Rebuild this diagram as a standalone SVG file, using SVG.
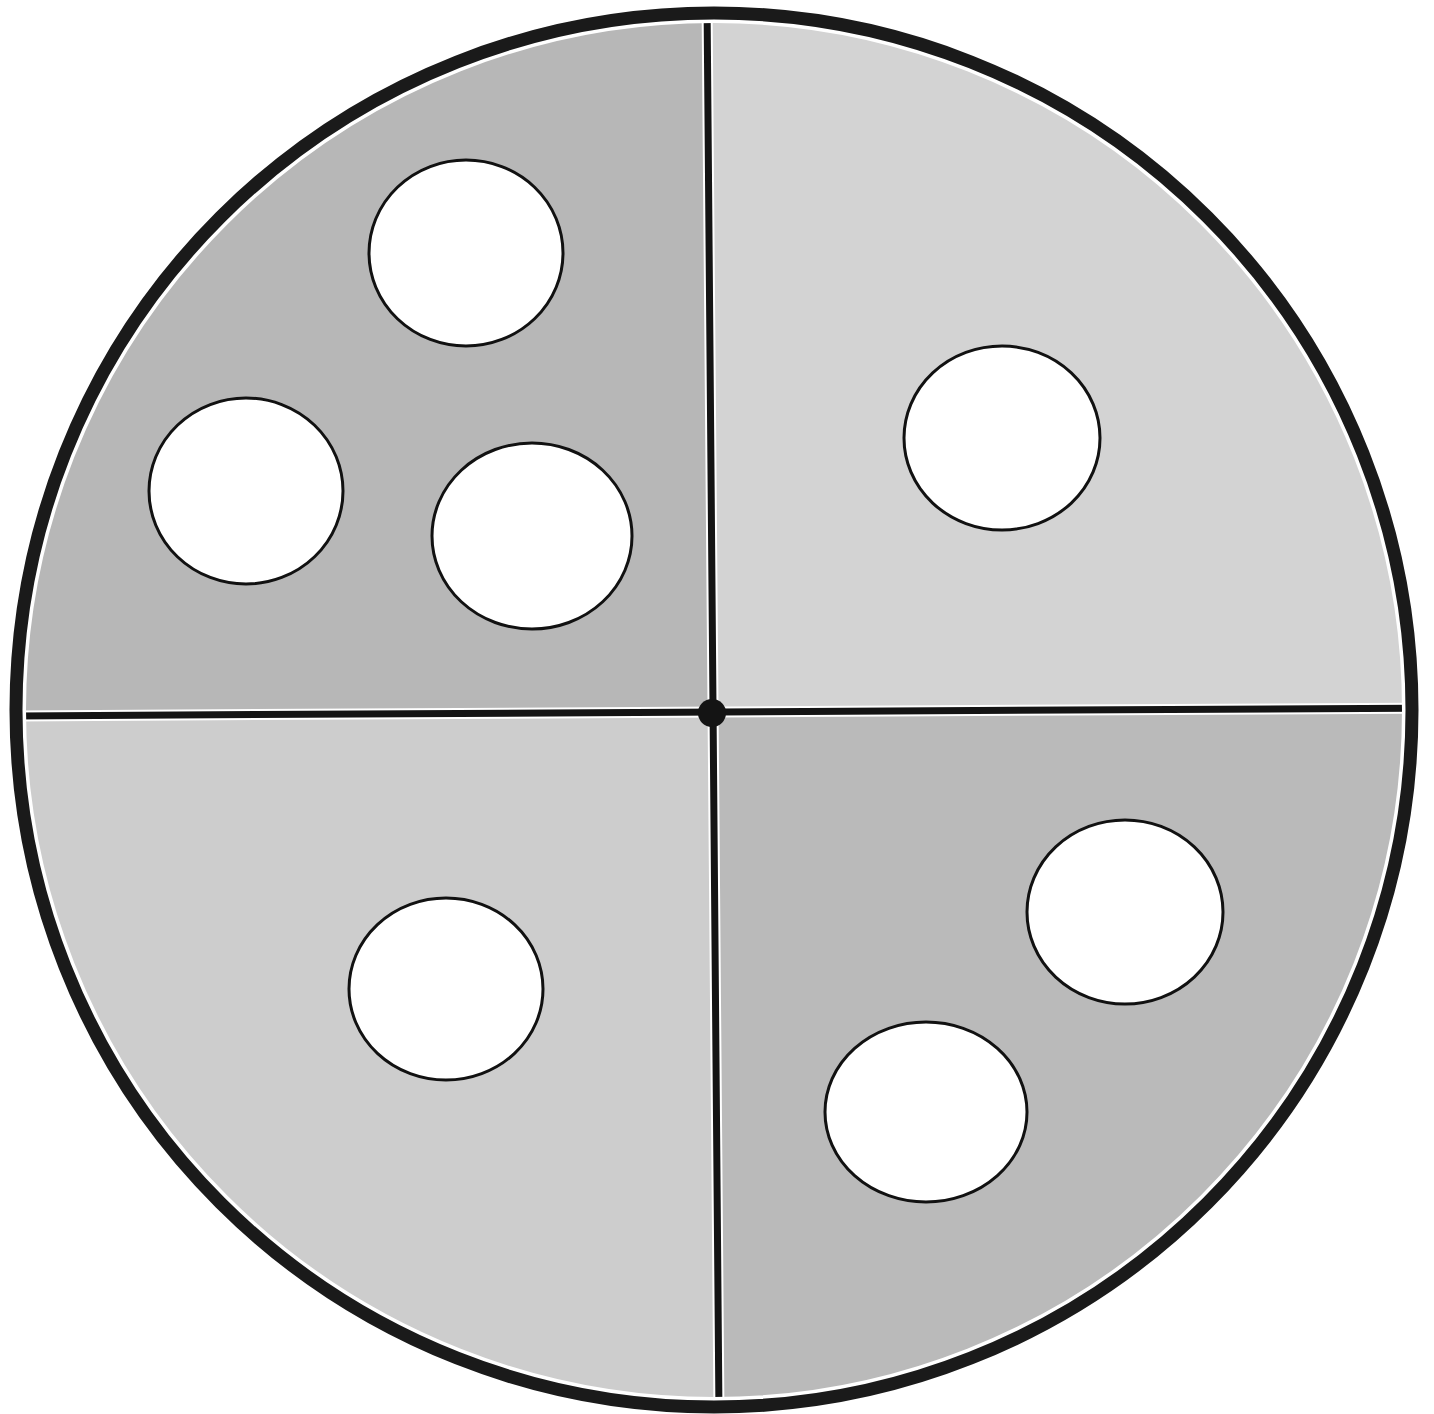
<svg xmlns="http://www.w3.org/2000/svg" width="1434" height="1414" viewBox="0 0 1434 1414">
  <style>
    .hole { fill: #ffffff; stroke: #111111; stroke-width: 3; }
    .halo { fill: none; stroke: #ffffff; stroke-width: 11; }
    .line { fill: none; stroke: #141414; stroke-width: 7; }
  </style>
  <defs>
    <clipPath id="disc">
      <ellipse cx="714" cy="710" rx="697" ry="696"/>
    </clipPath>
  </defs>
  <rect width="1434" height="1414" fill="#ffffff"/>
  <g id="quadrants" clip-path="url(#disc)">
    <polygon id="q-tl" points="0,0 707,0 712,713 0,716" fill="#b7b7b7"/>
    <polygon id="q-tr" points="707,0 1434,0 1434,708 712,713" fill="#d3d3d3"/>
    <polygon id="q-bl" points="0,716 712,713 719,1414 0,1414" fill="#cdcdcd"/>
    <polygon id="q-br" points="712,713 1434,708 1434,1414 719,1414" fill="#bababa"/>
  </g>
  <g id="dividers">
    <g clip-path="url(#disc)">
      <path class="halo" d="M707,0 L719,1414 M0,716 L1434,708"/>
      <path class="line" d="M707,0 L719,1414 M0,716 L1434,708"/>
    </g>
    <circle id="center" cx="712" cy="713" r="14" fill="#141414"/>
  </g>
  <ellipse id="rim-halo" cx="714" cy="710" rx="697" ry="696" fill="none" stroke="#ffffff" stroke-width="18"/>
  <ellipse id="rim" cx="714" cy="710" rx="698" ry="697" fill="none" stroke="#1a1a1a" stroke-width="13"/>
  <g id="holes">
    <ellipse id="h1" class="hole" cx="466" cy="253" rx="97" ry="93"/>
    <ellipse id="h2" class="hole" cx="246" cy="491" rx="97" ry="93"/>
    <ellipse id="h3" class="hole" cx="532" cy="536" rx="100" ry="93"/>
    <ellipse id="h4" class="hole" cx="1002" cy="438" rx="98" ry="92"/>
    <ellipse id="h5" class="hole" cx="446" cy="989" rx="97" ry="91"/>
    <ellipse id="h6" class="hole" cx="1125" cy="912" rx="98" ry="92"/>
    <ellipse id="h7" class="hole" cx="926" cy="1112" rx="101" ry="90"/>
  </g>
</svg>
